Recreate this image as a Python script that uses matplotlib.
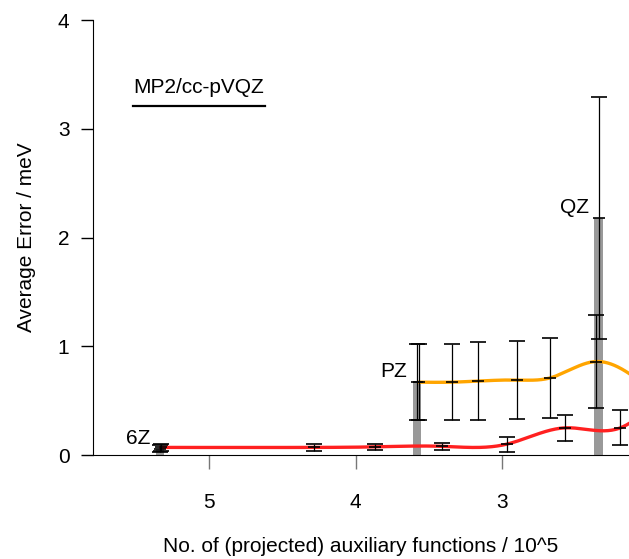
import matplotlib
matplotlib.use("Agg")
import matplotlib.pyplot as plt
import numpy as np

plt.rcParams['font.family'] = ['Liberation Sans', 'DejaVu Sans']

# basis-set reference bars (6Z, PZ, QZ)
bas_lab = ['6Z', 'PZ', 'QZ']
bas_x = [5.335, 3.58, 2.34]
bas_y = [0.06, 0.67, 2.18]
bas_err = [0.03, 0.35, 1.11]

# orange series
or_x = [3.567, 3.344, 3.163, 2.897, 2.669, 2.356, 2.0]
or_y = [0.67, 0.67, 0.68, 0.69, 0.71, 0.86, 0.62]
or_err = [0.35, 0.35, 0.36, 0.36, 0.37, 0.43, 0.0]

# red series
red_x = [5.329, 4.285, 3.867, 3.409, 2.967, 2.568, 2.191, 2.0]
red_y = [0.07, 0.07, 0.075, 0.08, 0.10, 0.25, 0.25, 0.42]
red_err = [0.03, 0.03, 0.03, 0.03, 0.07, 0.12, 0.16, 0.0]


def spline(x, y, n=400):
    # natural cubic spline drawn through the points
    x = np.asarray(x)[::-1]; y = np.asarray(y)[::-1]
    m = len(x)
    h = np.diff(x)
    A = np.zeros((m, m)); r = np.zeros(m)
    A[0, 0] = A[-1, -1] = 1
    for i in range(1, m - 1):
        A[i, i-1] = h[i-1]; A[i, i] = 2*(h[i-1]+h[i]); A[i, i+1] = h[i]
        r[i] = 3*((y[i+1]-y[i])/h[i] - (y[i]-y[i-1])/h[i-1])
    c = np.linalg.solve(A, r)
    xs = np.linspace(x[0], x[-1], n)
    k = np.clip(np.searchsorted(x, xs) - 1, 0, m - 2)
    d = xs - x[k]
    b = (y[k+1]-y[k])/h[k] - h[k]*(2*c[k]+c[k+1])/3
    dd = (c[k+1]-c[k])/(3*h[k])
    return xs, y[k] + b*d + c[k]*d**2 + dd*d**3


fig = plt.figure(figsize=(6.29, 5.59), dpi=100)
ax = fig.add_axes([0.148, 0.186, 0.852, 0.778])

ax.bar(bas_x, bas_y, width=0.057, color='#999999', zorder=1)

xs, ys = spline(or_x, or_y)
ax.plot(xs, ys, color='#FFA500', lw=2.4, zorder=2)
xs, ys = spline(red_x, red_y)
ax.plot(xs, ys, color='#FF2020', lw=2.4, zorder=2)

ekw = dict(fmt='_', color='black', ms=9, mew=1.2, elinewidth=0.9,
           capsize=6, capthick=1.0, zorder=3)
ax.errorbar(or_x[:-1], or_y[:-1], yerr=or_err[:-1], **ekw)
ax.errorbar(red_x[:-1], red_y[:-1], yerr=red_err[:-1], **ekw)
ax.errorbar(bas_x, bas_y, yerr=bas_err, **ekw)

for lab, x, y in zip(bas_lab, bas_x, bas_y):
    ax.annotate(lab, (x, y), xytext=(-10, 1), textcoords='offset pixels',
                ha='right', va='bottom', fontsize=15)

ax.text(0.0746, 0.844, 'MP2/cc-pVQZ', transform=ax.transAxes,
        fontsize=15, va='center', ha='left')
ax.plot([0.0746, 0.321], [0.802, 0.802], transform=ax.transAxes,
        color='black', lw=1.6)

ax.set_xlim(5.793, 2.132)
ax.set_ylim(0, 4)
ax.set_xticks([5, 4, 3])
ax.set_yticks([0, 1, 2, 3, 4])
ax.tick_params(axis='x', direction='out', length=10, width=1, color='#777777',
               pad=17, labelsize=15)
ax.tick_params(axis='y', direction='out', length=9, width=1, pad=8,
               labelsize=15)
ax.spines['top'].set_visible(False)
ax.spines['right'].set_visible(False)
ax.set_xlabel('No. of (projected) auxiliary functions / 10^5', fontsize=15,
              labelpad=18)
ax.set_ylabel('Average Error / meV', fontsize=15, labelpad=16)

fig.savefig('out.png', dpi=100)
